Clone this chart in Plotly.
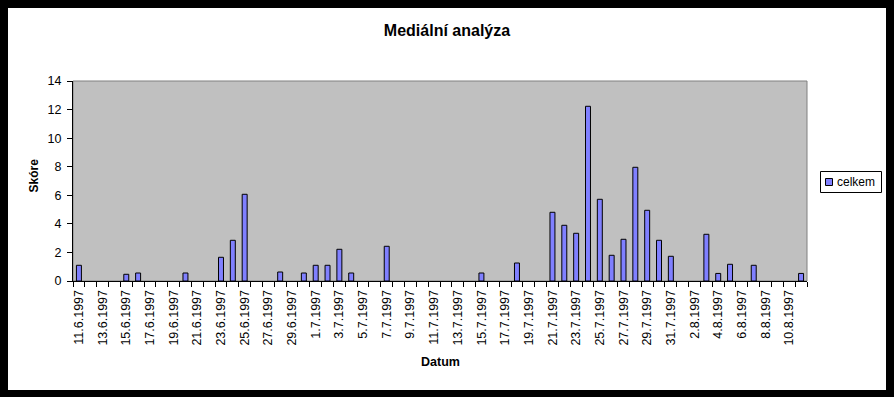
import plotly.graph_objects as go

dates = [f"{d}.6.1997" for d in range(11, 31)] + \
        [f"{d}.7.1997" for d in range(1, 32)] + \
        [f"{d}.8.1997" for d in range(1, 12)]

celkem = [1.1, 0, 0, 0, 0.47, 0.56, 0, 0, 0, 0.56,
          0, 0, 1.66, 2.85, 6.07, 0, 0, 0.63, 0, 0.56,
          1.1, 1.1, 2.22, 0.56, 0, 0, 2.43, 0, 0, 0,
          0, 0, 0, 0, 0.56, 0, 0, 1.26, 0, 0,
          4.81, 3.90, 3.34, 12.23, 5.72, 1.80, 2.92, 7.96, 4.95, 2.85,
          1.73, 0, 0, 3.27, 0.53, 1.17, 0, 1.10, 0, 0,
          0, 0.53]

tick_text = [d if i % 2 == 0 else "" for i, d in enumerate(dates)]

FONT = "Liberation Sans, Arial, sans-serif"
W, H = 894, 397
L, R, T, B = 73, 87, 81, 116
PW, PH = W - L - R, H - T - B


def px(x):
    return (x - L) / PW


def py(y):
    return (H - B - y) / PH


fig = go.Figure()
fig.add_trace(go.Bar(
    x=dates, y=[v if v else None for v in celkem], name="celkem",
    marker=dict(color="#8080FF", line=dict(color="black", width=1)),
    showlegend=False,
))

shapes = []
# plot-area grey frame (top/right)
shapes.append(dict(type="rect", xref="paper", yref="paper", x0=0, x1=1, y0=0, y1=1,
                   line=dict(color="#808080", width=1), layer="below"))
# legend box
shapes.append(dict(type="rect", xref="paper", yref="paper",
                   x0=px(820.5), x1=px(881.5), y0=py(192.5), y1=py(171.5),
                   line=dict(color="black", width=1), fillcolor="white"))
shapes.append(dict(type="rect", xref="paper", yref="paper",
                   x0=px(825.5), x1=px(832.5), y0=py(185.5), y1=py(178.5),
                   line=dict(color="black", width=1), fillcolor="#8080FF"))
# black outer frame
for x0, x1, y0, y1 in [(-20, 8, -20, H + 20), (886, W + 20, -20, H + 20),
                       (-20, W + 20, -20, 8), (-20, W + 20, 390, H + 20)]:
    shapes.append(dict(type="rect", xref="paper", yref="paper",
                       x0=px(x0), x1=px(x1), y0=py(y1), y1=py(y0),
                       line=dict(width=0), fillcolor="black", layer="above"))

annotations = [
    dict(text="celkem", xref="paper", yref="paper", x=px(835), y=py(182),
         xanchor="left", yanchor="middle", showarrow=False,
         font=dict(family=FONT, size=12, color="black")),
    dict(text="<b>Skóre</b>", xref="paper", yref="paper", x=px(33), y=py(175.5),
         xanchor="center", yanchor="middle", textangle=-90, showarrow=False,
         font=dict(family=FONT, size=12, color="black")),
    dict(text="<b>Datum</b>", xref="paper", yref="paper", x=0.5, y=py(362),
         xanchor="center", yanchor="middle", showarrow=False,
         font=dict(family=FONT, size=12.5, color="black")),
]

fig.update_layout(
    width=W, height=H,
    margin=dict(l=L, r=R, t=T, b=B),
    paper_bgcolor="white",
    plot_bgcolor="#C0C0C0",
    bargap=0.58,
    font=dict(family=FONT, size=12, color="black"),
    title=dict(text="<b>Mediální analýza</b>", x=447 / W, xanchor="center",
               y=1 - 30 / H, yanchor="middle",
               font=dict(family=FONT, size=16, color="black")),
    shapes=shapes,
    annotations=annotations,
    showlegend=False,
)
fig.update_xaxes(
    type="category", tickson="boundaries",
    tickmode="array", tickvals=dates, ticktext=tick_text,
    tickangle=-90, ticks="outside", ticklen=5, tickcolor="black", tickwidth=1,
    ticklabelstandoff=3,
    showline=True, linecolor="black", linewidth=1, showgrid=False,
    tickfont=dict(family=FONT, size=12.5, color="black"),
)
fig.update_yaxes(
    range=[0, 14], dtick=2, tick0=0,
    ticks="outside", ticklen=5, tickcolor="black", tickwidth=1,
    ticklabelstandoff=3,
    showline=True, linecolor="black", linewidth=1, showgrid=False, zeroline=False,
    tickfont=dict(family=FONT, size=12.5, color="black"),
)

fig.write_html(
    "out.html",
    config={"displayModeBar": False},
    post_script="document.body.style.margin='0';document.body.style.background='black';document.body.style.overflow='hidden';",
)
